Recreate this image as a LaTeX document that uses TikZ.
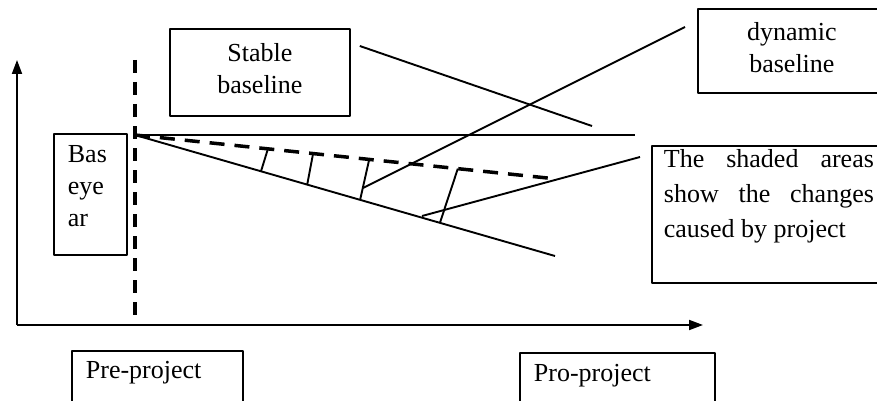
\documentclass[tikz,border=0pt]{standalone}
\usepackage{fontspec}
\setmainfont{Liberation Serif}
\usetikzlibrary{arrows.meta,calc,positioning}
\hyphenpenalty=10000
\tolerance=10000
\hbadness=10000

\begin{document}
\begin{tikzpicture}[x=1pt,y=-1pt,>={Triangle[length=14pt,width=10pt]},line join=round,
    box/.style={draw,line width=1.8pt,anchor=north west,inner xsep=14pt,
        font=\fontsize{26}{32}\selectfont},
    thin line/.style={line width=1.9pt},
    dash line/.style={line width=3.5pt,dash pattern=on 13pt off 9pt}]
    \useasboundingbox (0,0) rectangle (877,401);
    \clip (0,0) rectangle (877,401);

    % axes
    \coordinate (orig) at (17,325);
    \coordinate (ytip) at (17,60);
    \coordinate (xtip) at (703,325);
    \draw[thin line,->] (orig)--(ytip);
    \draw[thin line,->] (orig)--(xtip);
    \draw[dash line] (135,60)--(135,325);

    % baselines
    \coordinate (o) at (135,135);
    \coordinate (hEnd) at (635,135);
    \coordinate (dEnd) at (557,179);
    \coordinate (sEnd) at (555,256);
    \draw[thin line] (o)--(hEnd);
    \draw[line width=3.5pt,dash pattern=on 15pt off 10pt] (o)--(dEnd);
    \draw[thin line] (o)--(sEnd);
    \foreach \a/\b in {0.315/0.3,0.422/0.41,0.555/0.536,0.765/0.726}{
        \draw[thin line] ($(o)!\a!(dEnd)$)--($(o)!\b!(sEnd)$);}

    % boxes
    \node[box,text width=152pt,align=center,inner ysep=15pt,text depth=39pt] (stable) at (169,28) {Stable\\baseline};
    \node[box,text width=160pt,align=center,inner ysep=14pt,text depth=38pt] (dynamic) at (697,8) {dynamic\\baseline};
    \node[box,text width=45pt,align=left,inner ysep=12pt,text depth=80pt] (baseyear) at (53,133) {Bas\\eye\\ar};
    \node[box,text width=210pt,inner xsep=12pt,inner ysep=4pt,align=justify,text depth=111pt,
        font=\fontsize{26}{35}\selectfont] (shaded) at (651,145) {The shaded areas show the changes caused by project};
    \node[box,text width=143pt,align=left,inner ysep=10pt,text depth=50pt] (pre) at (71,350) {Pre-project};
    \node[box,text width=167pt,align=left,inner ysep=11pt,text depth=50pt] (pro) at (519,352) {Pro-project};

    % leaders
    \coordinate (stableTip) at (592,126);
    \coordinate (dynTip) at (363,188);
    \coordinate (shadedTip) at (422,216);
    \draw[thin line] ([xshift=9pt,yshift=-18pt]stable.north east)--(stableTip);
    \draw[thin line] ([xshift=-12pt,yshift=-19pt]dynamic.north west)--(dynTip);
    \draw[thin line] ([xshift=-11pt,yshift=-12pt]shaded.north west)--(shadedTip);
\end{tikzpicture}
\end{document}
